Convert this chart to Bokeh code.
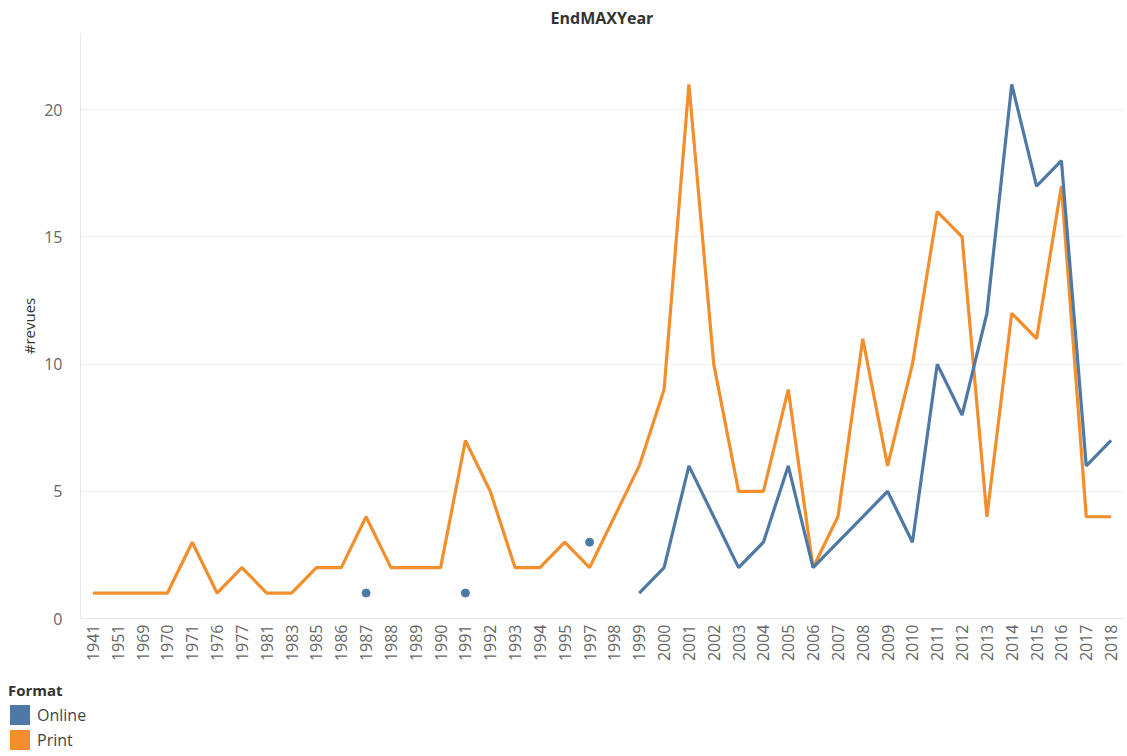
import math
from bokeh.plotting import figure
from bokeh.models import ColumnDataSource, FactorRange, Range1d, Div
from bokeh.layouts import column
from bokeh.embed import file_html
from bokeh.resources import INLINE

NaN = float("nan")

years = ["1941", "1951", "1969", "1970", "1971", "1976", "1977", "1981", "1983",
         "1985", "1986", "1987", "1988", "1989", "1990", "1991", "1992", "1993",
         "1994", "1995", "1997", "1998", "1999", "2000", "2001", "2002", "2003",
         "2004", "2005", "2006", "2007", "2008", "2009", "2010", "2011", "2012",
         "2013", "2014", "2015", "2016", "2017", "2018"]

print_vals = [1, 1, 1, 1, 3, 1, 2, 1, 1,
              2, 2, 4, 2, 2, 2, 7, 5, 2,
              2, 3, 2, 4, 6, 9, 21, 10, 5,
              5, 9, 2, 4, 11, 6, 10, 16, 15,
              4, 12, 11, 17, 4, 4]

online_vals = [NaN, NaN, NaN, NaN, NaN, NaN, NaN, NaN, NaN,
               NaN, NaN, 1, NaN, NaN, NaN, 1, NaN, NaN,
               NaN, NaN, 3, NaN, 1, 2, 6, 4, 2,
               3, 6, 2, 3, 4, 5, 3, 10, 8,
               12, 21, 17, 18, 6, 7]

series_names = ["Online", "Print"]
colors = ["#4e79a7", "#f28e2b"]

FONT = "Open Sans"

# isolated online points (no neighbours) shown as dots
iso_x, iso_y = [], []
for i, v in enumerate(online_vals):
    if math.isnan(v):
        continue
    left = online_vals[i - 1] if i > 0 else NaN
    right = online_vals[i + 1] if i < len(online_vals) - 1 else NaN
    if math.isnan(left) and math.isnan(right):
        iso_x.append(years[i])
        iso_y.append(v)

src = ColumnDataSource(dict(year=years, online=online_vals, prnt=print_vals))
iso_src = ColumnDataSource(dict(year=iso_x, val=iso_y))

p = figure(x_range=FactorRange(factors=years), y_range=Range1d(0, 23),
           width=1125, height=664, output_backend="svg", toolbar_location=None,
           min_border_left=80, min_border_right=2, min_border_top=0, min_border_bottom=0)
p.outline_line_color = None
p.background_fill_color = "white"

p.title.text = "EndMAXYear"
p.title.align = "center"
p.title.text_font = FONT
p.title.text_font_size = "16px"
p.title.text_font_style = "bold"
p.title.text_color = "#333333"
p.title.standoff = 9

p.line("year", "prnt", source=src, line_color=colors[1], line_width=3.2)
p.line("year", "online", source=src, line_color=colors[0], line_width=3.2)
p.scatter("year", "val", source=iso_src, size=8, fill_color=colors[0], line_color=colors[0])

p.xgrid.grid_line_color = None
p.ygrid.grid_line_color = "#f0f0f0"
p.ygrid.grid_line_width = 1

p.yaxis.ticker = [0, 5, 10, 15, 20]
p.yaxis.axis_label = "#revues"
p.yaxis.axis_label_text_font = FONT
p.yaxis.axis_label_text_font_size = "15px"
p.yaxis.axis_label_text_font_style = "normal"
p.yaxis.axis_label_text_color = "#333333"
p.yaxis.axis_label_standoff = 2
p.yaxis.major_label_text_font = FONT
p.yaxis.major_label_text_font_size = "16px"
p.yaxis.major_label_text_color = "#666666"
p.yaxis.major_label_standoff = 12
p.yaxis.axis_line_color = "#e8e8e8"
p.yaxis.major_tick_line_color = None
p.yaxis.minor_tick_line_color = None

p.xaxis.major_label_orientation = math.pi / 2
p.xaxis.major_label_text_font = FONT
p.xaxis.major_label_text_font_size = "16px"
p.xaxis.major_label_text_color = "#666666"
p.xaxis.major_label_standoff = 0
p.xaxis.axis_line_color = "#e8e8e8"
p.xaxis.major_tick_line_color = None

# legend (colour legend below the chart)
rows = []
for name, c in zip(series_names, colors):
    rows.append(
        f'<div style="display:flex;align-items:center;height:20px;margin-top:5px;">'
        f'<span style="display:inline-block;width:20px;height:20px;background:{c};'
        f'margin-left:2px;margin-right:7px;"></span>'
        f'<span style="font-family:\'{FONT}\';font-size:16px;color:#444444;">{name}</span></div>'
    )
legend_html = (
    f'<div style="font-family:\'{FONT}\';font-size:15px;font-weight:bold;color:#333333;'
    f'line-height:20px;">Format</div>' + "".join(rows)
)
legend_div = Div(text=legend_html, width=200, height=72, margin=(16, 0, 0, 8))

layout = column(p, legend_div)
open("out.html", "w").write(file_html(layout, INLINE))
